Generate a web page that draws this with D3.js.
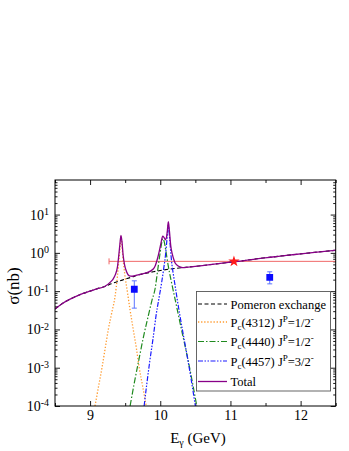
<!DOCTYPE html>
<html>
<head>
<meta charset="utf-8">
<script src="https://cdnjs.cloudflare.com/ajax/libs/d3/7.8.5/d3.min.js"></script>
<style>
  body { margin: 0; background: #fff; }
  text { font-family: "Liberation Serif", "Times New Roman", serif; }
</style>
</head>
<body>
<div id="chart"></div>
<script>
// photon energy (GeV) and cross section (nb)
var pomeronE = [8.5, 8.6, 8.7, 8.8, 8.9, 9.0, 9.1, 9.2, 9.3, 9.4, 9.5, 9.6, 9.7, 9.8, 9.9, 10.0, 10.2, 10.4, 10.6, 10.8, 11.0, 11.2, 11.4, 11.6, 11.8, 12.0, 12.2, 12.5];
var pomeronSigma = [0.034, 0.047, 0.06, 0.073, 0.087, 0.10, 0.115, 0.13, 0.155, 0.18, 0.205, 0.235, 0.27, 0.295, 0.32, 0.345, 0.39, 0.425, 0.465, 0.515, 0.57, 0.63, 0.71, 0.78, 0.86, 0.94, 1.03, 1.17];

var pc4312E = [9.07, 9.12, 9.17, 9.215, 9.26, 9.31, 9.355, 9.39, 9.415, 9.43, 9.44, 9.45, 9.465, 9.49, 9.53, 9.57, 9.615, 9.66, 9.70, 9.75, 9.80];
var pc4312Sigma = [1e-4, 3.2e-4, 1e-3, 3.2e-3, 1e-2, 0.028, 0.071, 0.25, 0.79, 1.6, 2.7, 2.0, 0.89, 0.32, 0.1, 0.032, 0.01, 3.2e-3, 1e-3, 3.2e-4, 1e-4];

var pc4440E = [9.57, 9.63, 9.69, 9.76, 9.83, 9.88, 9.93, 9.96, 9.99, 10.015, 10.035, 10.055, 10.08, 10.11, 10.16, 10.21, 10.26, 10.32, 10.38, 10.45, 10.52];
var pc4440Sigma = [1e-4, 4e-4, 1.45e-3, 6.3e-3, 0.023, 0.056, 0.126, 0.32, 0.79, 1.6, 2.35, 2.0, 1.12, 0.5, 0.17, 0.063, 0.023, 7e-3, 2.2e-3, 5e-4, 1e-4];

var pc4457E = [9.77, 9.81, 9.85, 9.90, 9.94, 9.98, 10.02, 10.05, 10.075, 10.095, 10.115, 10.135, 10.16, 10.19, 10.215, 10.245, 10.28, 10.33, 10.38, 10.44, 10.50];
var pc4457Sigma = [1e-4, 4e-4, 1.45e-3, 6.3e-3, 0.023, 0.063, 0.17, 0.4, 0.89, 2.2, 5.25, 2.2, 0.63, 0.25, 0.126, 0.056, 0.023, 7e-3, 2.2e-3, 5e-4, 1e-4];

var totalE = [8.5, 8.6, 8.7, 8.8, 8.9, 9.0, 9.1, 9.2, 9.3, 9.33, 9.36, 9.39, 9.41, 9.425, 9.44, 9.455, 9.47, 9.49, 9.52, 9.56, 9.6, 9.7, 9.8, 9.9, 9.93, 9.96, 9.99, 10.015, 10.035, 10.055, 10.075, 10.09, 10.1, 10.115, 10.13, 10.15, 10.17, 10.19, 10.21, 10.245, 10.28, 10.32, 10.4, 10.6, 10.8, 11.0, 11.2, 11.4, 11.6, 11.8, 12.0, 12.2, 12.5];
var totalSigma = [0.034, 0.047, 0.06, 0.073, 0.087, 0.10, 0.115, 0.13, 0.18, 0.21, 0.27, 0.43, 0.9, 1.7, 2.85, 1.9, 0.9, 0.5, 0.32, 0.25, 0.245, 0.272, 0.3, 0.38, 0.47, 0.7, 1.2, 2.0, 2.75, 2.5, 2.2, 2.6, 3.6, 6.5, 3.8, 1.5, 0.95, 0.7, 0.55, 0.47, 0.43, 0.41, 0.425, 0.465, 0.515, 0.57, 0.63, 0.71, 0.78, 0.86, 0.94, 1.03, 1.17];

// red star with its horizontal bar, and the two blue squares
var starE = [11.05], starSigma = [0.6], starELow = [9.27], starEHigh = [12.83];
var squareE = [9.63, 11.56];
var squareSigma = [0.112, 0.23];
var squareLow = [0.036, 0.155];
var squareHigh = [0.186, 0.32];

var xMajor = [9, 10, 11, 12];
var xMinor = [8.5, 9.5, 10.5, 11.5, 12.5];
var yMajor = [1e-4, 1e-3, 1e-2, 1e-1, 1, 10];

var svgWidth = 349;
var svgHeight = 451;
var margin = { top: 180, right: 13.3, bottom: 45, left: 55 };
var width = svgWidth - margin.left - margin.right;
var height = svgHeight - margin.top - margin.bottom;

var svg = d3.select("#chart")
  .append("svg")
  .attr("width", svgWidth)
  .attr("height", svgHeight);

var chartGroup = svg.append("g")
  .attr("transform", `translate(${margin.left}, ${margin.top})`);

var xScale = d3.scaleLinear().domain([8.5, 12.5]).range([0, width]);
var yScale = d3.scaleLog().domain([1e-4, 80]).range([height, 0]);

chartGroup.append("clipPath").attr("id", "plotClip")
  .append("rect").attr("width", width).attr("height", height);

// minor log ticks
var yMinor = [];
yMajor.forEach(function(p) {
  for (var k = 2; k <= 9; k++) {
    if (p * k < 80) yMinor.push(p * k);
  }
});

function styleAxis(g) {
  g.select(".domain").remove();
  g.selectAll("line").attr("stroke", "#000").attr("stroke-width", 0.9);
  g.selectAll("text").attr("font-size", "14px").attr("fill", "#000")
    .attr("font-family", "Liberation Serif, serif");
}

chartGroup.append("g")
  .attr("transform", `translate(0, ${height})`)
  .call(d3.axisBottom(xScale).tickValues(xMajor).tickSizeInner(-5).tickSizeOuter(0).tickPadding(4).tickFormat(d3.format("d")))
  .call(styleAxis);
chartGroup.append("g")
  .attr("transform", `translate(0, ${height})`)
  .call(d3.axisBottom(xScale).tickValues(xMinor).tickSizeInner(-3).tickSizeOuter(0).tickFormat(""))
  .call(styleAxis);
chartGroup.append("g")
  .call(d3.axisTop(xScale).tickValues(xMajor).tickSizeInner(-5).tickSizeOuter(0).tickFormat(""))
  .call(styleAxis);
chartGroup.append("g")
  .call(d3.axisTop(xScale).tickValues(xMinor).tickSizeInner(-3).tickSizeOuter(0).tickFormat(""))
  .call(styleAxis);

var leftAxis = chartGroup.append("g")
  .call(d3.axisLeft(yScale).tickValues(yMajor).tickSizeInner(-5).tickSizeOuter(0).tickPadding(6))
  .call(styleAxis);
leftAxis.selectAll(".tick text").text(null).each(function(d) {
  var t = d3.select(this);
  t.append("tspan").text("10");
  t.append("tspan").attr("dy", "-0.45em").attr("font-size", "10px").text(Math.round(Math.log10(d)));
});
chartGroup.append("g")
  .call(d3.axisLeft(yScale).tickValues(yMinor).tickSizeInner(-2.5).tickSizeOuter(0).tickFormat(""))
  .call(styleAxis);
chartGroup.append("g")
  .attr("transform", `translate(${width}, 0)`)
  .call(d3.axisRight(yScale).tickValues(yMajor).tickSizeInner(-5).tickSizeOuter(0).tickFormat(""))
  .call(styleAxis);
chartGroup.append("g")
  .attr("transform", `translate(${width}, 0)`)
  .call(d3.axisRight(yScale).tickValues(yMinor).tickSizeInner(-2.5).tickSizeOuter(0).tickFormat(""))
  .call(styleAxis);

// curves
var curves = [
  { e: pomeronE, s: pomeronSigma, color: "#000000", dash: "4,2.5", w: 1.1 },
  { e: pc4312E, s: pc4312Sigma, color: "#ff9a2e", dash: "1.3,1.8", w: 1.3 },
  { e: pc4440E, s: pc4440Sigma, color: "#1f8a1f", dash: "6,2,1.5,2", w: 1.2 },
  { e: pc4457E, s: pc4457Sigma, color: "#1a1aff", dash: "5,1.5,1.5,1.5,1.5,1.5", w: 1.2 },
  { e: totalE, s: totalSigma, color: "#880088", dash: null, w: 1.3 }
];

var line = d3.line()
  .x(d => xScale(d[0]))
  .y(d => yScale(d[1]))
  .curve(d3.curveMonotoneX);

var plotArea = chartGroup.append("g").attr("clip-path", "url(#plotClip)");

// red horizontal error bar
plotArea.append("line")
  .attr("x1", xScale(starELow[0])).attr("x2", xScale(starEHigh[0]))
  .attr("y1", yScale(starSigma[0])).attr("y2", yScale(starSigma[0]))
  .attr("stroke", "#f06868").attr("stroke-width", 1);
plotArea.append("line")
  .attr("x1", xScale(starELow[0])).attr("x2", xScale(starELow[0]))
  .attr("y1", yScale(starSigma[0]) - 3).attr("y2", yScale(starSigma[0]) + 3)
  .attr("stroke", "#f06868").attr("stroke-width", 1);

curves.forEach(function(c) {
  plotArea.append("path")
    .datum(c.e.map((e, i) => [e, c.s[i]]))
    .attr("d", line)
    .attr("fill", "none")
    .attr("stroke", c.color)
    .attr("stroke-width", c.w)
    .attr("stroke-dasharray", c.dash);
});

// blue squares with vertical error bars
squareE.forEach(function(e, i) {
  var cx = xScale(e);
  plotArea.append("line")
    .attr("x1", cx).attr("x2", cx)
    .attr("y1", yScale(squareLow[i])).attr("y2", yScale(squareHigh[i]))
    .attr("stroke", "#5c74ff").attr("stroke-width", 1);
  [squareLow[i], squareHigh[i]].forEach(function(v) {
    plotArea.append("line")
      .attr("x1", cx - 2.5).attr("x2", cx + 2.5)
      .attr("y1", yScale(v)).attr("y2", yScale(v))
      .attr("stroke", "#5c74ff").attr("stroke-width", 1);
  });
  plotArea.append("path")
    .attr("d", d3.symbol(d3.symbolSquare, 46)())
    .attr("transform", `translate(${cx}, ${yScale(squareSigma[i])})`)
    .attr("fill", "#0a0aff");
});

plotArea.append("path")
  .attr("d", d3.symbol(d3.symbolStar, 40)())
  .attr("transform", `translate(${xScale(starE[0])}, ${yScale(starSigma[0])})`)
  .attr("fill", "#ff1a1a");

// frame
chartGroup.append("rect")
  .attr("width", width).attr("height", height)
  .attr("fill", "none").attr("stroke", "#000").attr("stroke-width", 1);

// legend
var legendLabels = [
  [{ t: "Pomeron exchange" }],
  [{ t: "P" }, { t: "c", sub: true }, { t: "(4312) J" }, { t: "P", sup: true }, { t: "=1/2" }, { t: "-", sup: true }],
  [{ t: "P" }, { t: "c", sub: true }, { t: "(4440) J" }, { t: "P", sup: true }, { t: "=1/2" }, { t: "-", sup: true }],
  [{ t: "P" }, { t: "c", sub: true }, { t: "(4457) J" }, { t: "P", sup: true }, { t: "=3/2" }, { t: "-", sup: true }],
  [{ t: "Total" }]
];
var legendRows = [304, 322, 341.5, 361, 381.5];

var legend = svg.append("g");
legend.append("rect")
  .attr("x", 196.5).attr("y", 291.5).attr("width", 134).attr("height", 99.5)
  .attr("fill", "#fff").attr("stroke", "#555").attr("stroke-width", 0.9);

legendLabels.forEach(function(parts, i) {
  var c = curves[i];
  var ly = legendRows[i];
  legend.append("line")
    .attr("x1", 198).attr("x2", 227)
    .attr("y1", ly).attr("y2", ly)
    .attr("stroke", c.color).attr("stroke-width", c.w)
    .attr("stroke-dasharray", c.dash);
  var txt = legend.append("text")
    .attr("x", 230.5).attr("y", ly + 4.5)
    .attr("font-size", "12.5px").attr("fill", "#000");
  var shift = 0;
  parts.forEach(function(p) {
    var target = p.sub ? 3 : (p.sup ? -5 : 0);
    txt.append("tspan")
      .attr("dy", target - shift)
      .attr("font-size", p.sub || p.sup ? "9px" : "12.5px")
      .text(p.t);
    shift = target;
  });
});

// axis titles
var yTitle = svg.append("text")
  .attr("transform", "translate(19, 286) rotate(-90)")
  .attr("text-anchor", "middle")
  .attr("font-size", "17px")
  .text("σ(nb)");

var xTitle = svg.append("text")
  .attr("x", 198).attr("y", 443)
  .attr("text-anchor", "middle")
  .attr("font-size", "15px");
xTitle.append("tspan").text("E");
xTitle.append("tspan").attr("dy", 3).attr("font-size", "10px").text("γ");
xTitle.append("tspan").attr("dy", -3).text(" (GeV)");
</script>
</body>
</html>
